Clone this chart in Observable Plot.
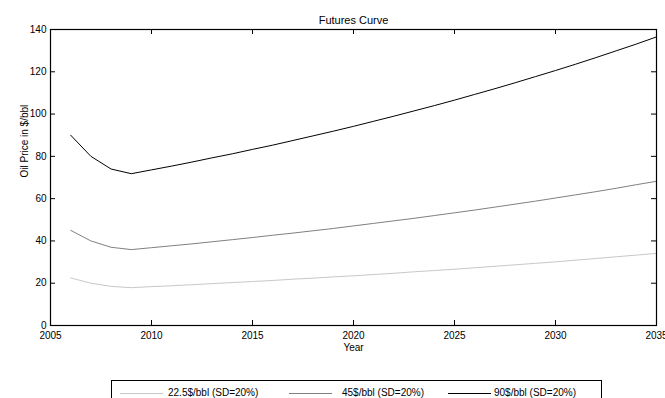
<!DOCTYPE html>
<html>
<head>
<meta charset="utf-8">
<script src="https://cdn.jsdelivr.net/npm/d3@7"></script>
<script src="https://cdn.jsdelivr.net/npm/@observablehq/plot@0.6"></script>
<style>
  body { margin: 0; background: #fff; font-family: "Liberation Sans", Arial, sans-serif; }
  #wrap { position: relative; width: 665px; height: 398px; overflow: hidden; }
  #legend { position: absolute; left: 111px; top: 380px; width: 491px; height: 30px; border: 1px solid #000; box-sizing: border-box; }
  .item { position: absolute; top: 0; height: 26px; font-size: 10px; }
  .item .sw { position: absolute; top: 12px; width: 43px; height: 0; border-top: 1px solid; }
  .item .lb { position: absolute; top: 7px; white-space: nowrap; line-height: 10px; }
</style>
</head>
<body>
<div id="wrap"></div>
<script>
const years = d3.range(2006, 2036);
const seriesNames = ["22.5$/bbl (SD=20%)", "45$/bbl (SD=20%)", "90$/bbl (SD=20%)"];
const price22 = [22.5, 20, 18.5, 17.9, 18.4, 18.8, 19.3, 19.8, 20.3, 20.8, 21.3, 21.9, 22.4, 23.0, 23.5, 24.1, 24.7, 25.4, 26.0, 26.6, 27.3, 28.0, 28.7, 29.4, 30.1, 30.9, 31.7, 32.5, 33.3, 34.1];
const price45 = [45, 40, 37, 35.9, 36.8, 37.7, 38.6, 39.6, 40.6, 41.6, 42.7, 43.7, 44.8, 45.9, 47.1, 48.3, 49.5, 50.7, 52.0, 53.3, 54.6, 56.0, 57.4, 58.8, 60.3, 61.8, 63.3, 64.9, 66.6, 68.2];
const price90 = [90, 80, 74, 71.8, 73.6, 75.4, 77.3, 79.3, 81.2, 83.3, 85.3, 87.5, 89.7, 91.9, 94.2, 96.6, 99.0, 101.5, 104.0, 106.6, 109.3, 112.0, 114.8, 117.7, 120.6, 123.6, 126.7, 129.9, 133.1, 136.5];
const xTicks = [2005, 2010, 2015, 2020, 2025, 2030, 2035];
const yTicks = [0, 20, 40, 60, 80, 100, 120, 140];
const title = "Futures Curve";
const xLabel = "Year";
const yLabel = "Oil Price in $/bbl";

const colors = ["#c8c8c8", "#808080", "#000000"];
const allSeries = [price22, price45, price90];
const tables = allSeries.map(vals => years.map((y, i) => ({year: y, price: vals[i]})));

const W = 665, H = 360, mL = 50, mR = 9, mT = 29, mB = 35;
const frameW = W - mL - mR, frameH = H - mT - mB, tick = 5;

const chart = Plot.plot({
  width: W,
  height: H,
  marginLeft: mL,
  marginRight: mR,
  marginTop: mT,
  marginBottom: mB,
  style: {fontFamily: "'Liberation Sans', Arial, sans-serif", fontSize: "10px", color: "#000", background: "#fff"},
  x: {type: "linear", domain: [2005, 2035], ticks: xTicks, tickFormat: "d"},
  y: {domain: [0, 140], ticks: yTicks},
  marks: [
    ...tables.map((t, i) => Plot.line(t, {x: "year", y: "price", stroke: colors[i], strokeWidth: 1})),
    Plot.axisX({anchor: "bottom", ticks: xTicks, tickFormat: "d", tickSize: 0, tickPadding: 6, label: null, fontSize: 10}),
    Plot.axisY({anchor: "left", ticks: yTicks, tickSize: 0, tickPadding: 4, label: null, fontSize: 10}),
    Plot.ruleX(xTicks, {x: d => d, insetTop: frameH - tick, stroke: "#000"}),
    Plot.ruleX(xTicks, {x: d => d, insetBottom: frameH - tick, stroke: "#000"}),
    Plot.ruleY(yTicks, {y: d => d, insetRight: frameW - tick, stroke: "#000"}),
    Plot.ruleY(yTicks, {y: d => d, insetLeft: frameW - tick, stroke: "#000"}),
    Plot.frame({stroke: "#000", strokeWidth: 1.2}),
    Plot.text([title], {frameAnchor: "top", dy: -13, fontSize: 11}),
    Plot.text([xLabel], {frameAnchor: "bottom", dy: 25, fontSize: 10}),
    Plot.text([yLabel], {frameAnchor: "left", dx: -26, rotate: -90, fontSize: 10})
  ]
});

const wrap = document.getElementById("wrap");
wrap.appendChild(chart);

const legend = document.createElement("div");
legend.id = "legend";
const swLeft = [8, 177, 336];
const lbLeft = [56, 230, 382];
seriesNames.forEach((name, i) => {
  const item = document.createElement("div");
  item.className = "item";
  item.style.left = "0px";
  const sw = document.createElement("div");
  sw.className = "sw";
  sw.style.left = swLeft[i] + "px";
  sw.style.borderTopColor = colors[i];
  const lb = document.createElement("div");
  lb.className = "lb";
  lb.style.left = lbLeft[i] + "px";
  lb.textContent = name;
  item.appendChild(sw);
  item.appendChild(lb);
  legend.appendChild(item);
});
wrap.appendChild(legend);
</script>
</body>
</html>
